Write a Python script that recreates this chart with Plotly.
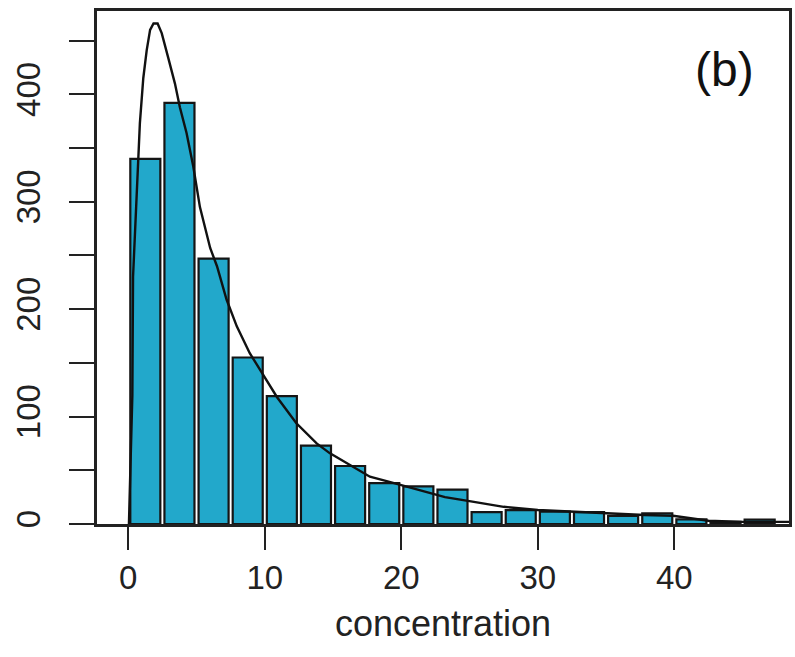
import plotly.graph_objects as go

# Histogram bins (width 2.5) and counts
bin_centers = [1.25 + 2.5 * i for i in range(19)]
counts = [340, 392, 247, 155, 119, 73, 54, 38, 35, 32, 11, 13, 11.5, 11, 7.5, 10, 4.3, 2, 4]

# Fitted density curve (scaled to counts)
curve_x = [0.0, 0.05, 0.1, 0.3, 0.35, 0.6, 0.85, 1.1, 1.35, 1.6, 1.85, 2.15, 2.45, 2.93,
           3.42, 3.78, 4.27, 4.76, 5.25, 6.0, 6.5, 7.2, 7.95, 8.9, 9.9, 10.9, 12.3, 13.8,
           14.75, 16.2, 17.7, 19.2, 20.1, 21.3, 23.2, 25.1, 26.3, 27.5, 30.0, 32.4, 35.1,
           37.8, 39.9, 41.1, 42.5, 45.0, 48.4]
curve_y = [0, 0, 25, 120, 230, 300, 373, 415, 441, 460, 466, 466, 457, 434,
           410, 388, 364, 333, 295, 257, 240, 209, 184, 159, 139, 118, 94, 75,
           66, 55, 44, 39, 36, 32, 25, 21, 18.6, 16, 13, 11.5, 10,
           8.4, 7.7, 5.3, 3, 2, 2]

x_ticks = [0, 10, 20, 30, 40]
x_ticklabels = ["0", "10", "20", "30", "40"]
y_ticks = [0, 50, 100, 150, 200, 250, 300, 350, 400, 450]
y_ticklabels = ["0", "", "100", "", "200", "", "300", "", "400", ""]

fig = go.Figure()
fig.add_trace(go.Bar(
    x=bin_centers, y=counts, width=2.2,
    marker=dict(color="#22a8cb", line=dict(color="#151515", width=2.2)),
    showlegend=False,
))
fig.add_trace(go.Scatter(
    x=curve_x, y=curve_y, mode="lines",
    line=dict(color="#111111", width=2.4),
    showlegend=False,
))

axis_font = dict(family="Liberation Sans, Arial, sans-serif", size=33, color="#222222")
title_font = dict(family="Liberation Sans, Arial, sans-serif", size=36, color="#222222")

fig.update_layout(
    width=795, height=657,
    margin=dict(l=97, r=3, t=11, b=133),
    paper_bgcolor="white", plot_bgcolor="white",
    font=axis_font,
    xaxis=dict(
        range=[-2.29, 48.4], tickvals=x_ticks, ticktext=x_ticklabels,
        ticks="outside", ticklen=23, tickwidth=2, tickcolor="#222222",
        showline=True, mirror=True, linecolor="#222222", linewidth=2.5,
        showgrid=False, zeroline=False, tickfont=axis_font,
        ticklabelstandoff=0,
        title=dict(text="concentration", font=title_font, standoff=16),
    ),
    yaxis=dict(
        range=[0, 477.6], tickvals=y_ticks, ticktext=y_ticklabels,
        ticks="outside", ticklen=25, tickwidth=2, tickcolor="#222222",
        showline=True, mirror=True, linecolor="#222222", linewidth=2.5,
        showgrid=False, zeroline=False, tickfont=axis_font, tickangle=-90,
        ticklabelstandoff=16,
    ),
    annotations=[dict(
        text="(b)", xref="paper", yref="paper",
        x=(727 - 97) / 695, y=(524 - 69) / 513,
        xanchor="center", yanchor="middle", showarrow=False,
        font=dict(family="Liberation Sans, Arial, sans-serif", size=48, color="#111111"),
    )],
)

fig.write_html("out.html", post_script="document.body.style.margin='0';",
               config={"displayModeBar": False})
